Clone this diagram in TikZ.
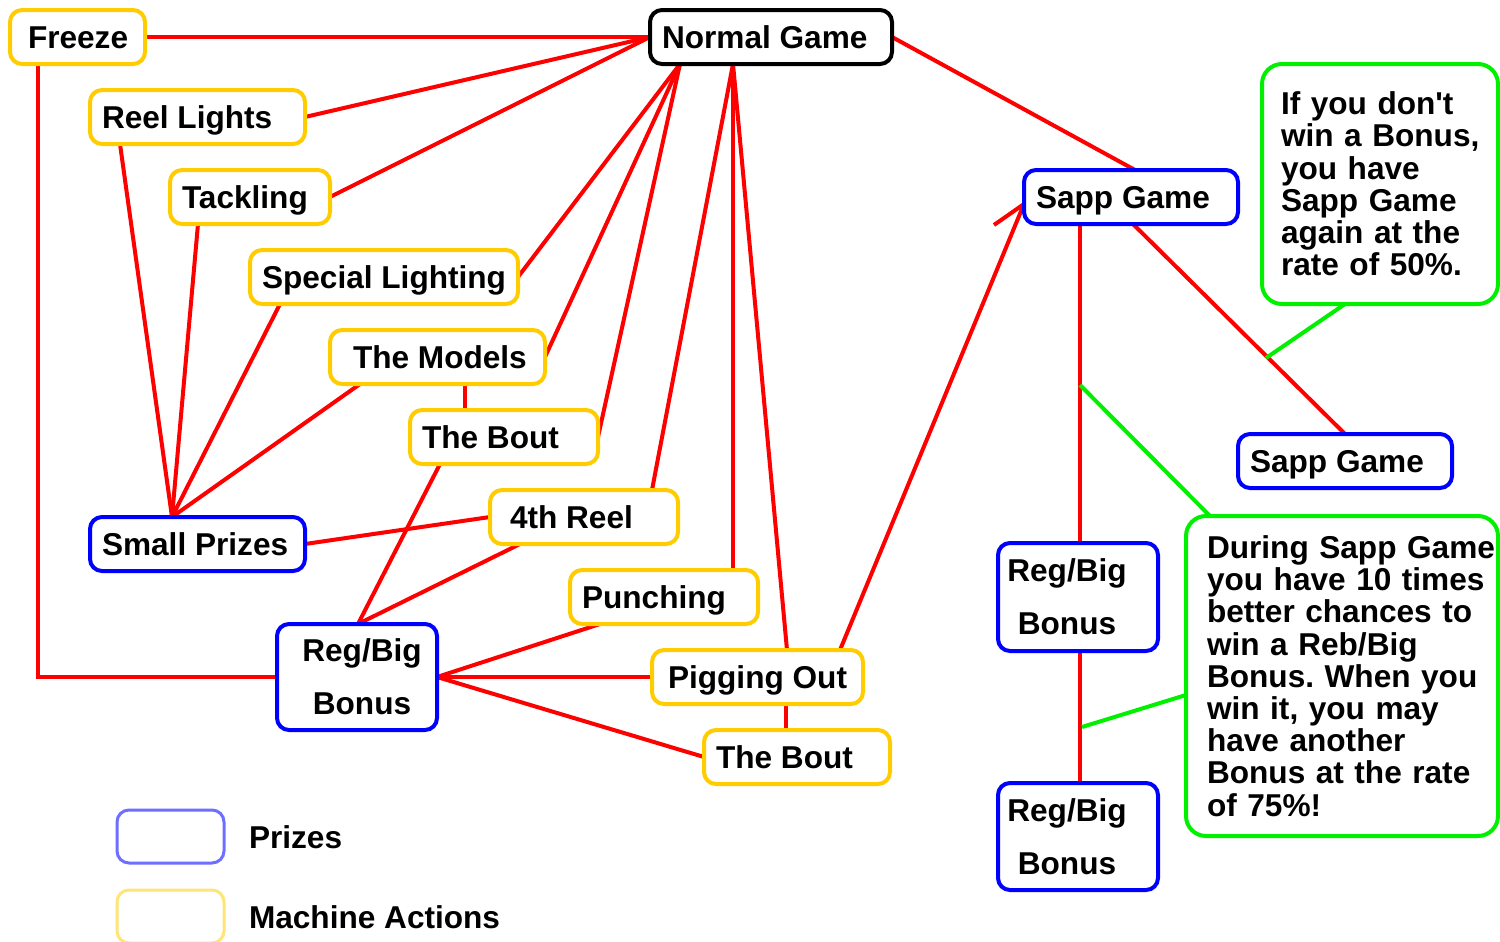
\documentclass[tikz,border=0pt]{standalone}
\usepackage{fontspec}
\setmainfont{Liberation Sans}
\newfontfamily\plainq{Liberation Sans}[Ligatures=TeXOff]
\usetikzlibrary{backgrounds}
\definecolor{myred}{RGB}{255,0,0}
\definecolor{myblue}{RGB}{0,0,255}
\definecolor{myyellow}{RGB}{255,204,0}
\definecolor{mygreen}{RGB}{0,240,0}
\definecolor{lblue}{RGB}{110,110,255}
\definecolor{lyellow}{RGB}{255,228,120}
\frenchspacing
\begin{document}
\begin{tikzpicture}[x=0.5pt,y=-0.5pt,
  lab/.style={font=\fontsize{15.8}{16}\selectfont\bfseries, outer sep=0pt},
  bx/.style={lab, draw, fill=white, line width=2pt, rounded corners=6pt, inner xsep=6pt, inner ysep=0pt, minimum height=27pt, anchor=north west, text height=11pt, text depth=0pt},
  yb/.style={bx, draw=myyellow},
  bb/.style={bx, draw=myblue},
  kb/.style={bx, draw=black},
  two/.style={draw=myblue, fill=white, line width=2pt, rounded corners=6pt, inner sep=0pt, outer sep=0pt, minimum width=80pt, anchor=north west, align=center, font=\fontsize{15.8}{26.5}\selectfont\bfseries},
  note/.style={draw=mygreen, fill=white, line width=2pt, rounded corners=10pt, inner ysep=0pt, outer sep=0pt, anchor=north west, align=left, font=\fontsize{15.8}{16.1}\selectfont\bfseries},
  lg/.style={line width=1.5pt, rounded corners=6pt, minimum width=53.5pt, minimum height=26.5pt, anchor=north west, inner sep=0pt, outer sep=0pt},
  lt/.style={lab, anchor=west, inner sep=0pt, text height=11pt, text depth=0pt},
  wire/.style={draw=myred, line width=2pt},
  gwire/.style={draw=mygreen, line width=2pt}]
\useasboundingbox (0,0) rectangle (1500,942);

% machine action and game nodes
\node[kb] (ng) at (650,10) {\makebox[109pt][l]{Normal Game}};
\node[yb] (fz) at (10,10) {\makebox[55.5pt][l]{\hspace*{3pt}Freeze}};
\node[yb] (rl) at (90,90) {\makebox[95.5pt][l]{Reel Lights}};
\node[yb] (tk) at (170,170) {\makebox[68pt][l]{Tackling}};
\node[yb] (sl) at (250,250) {\makebox[122pt][l]{Special Lighting}};
\node[yb] (tm) at (330,330) {\makebox[95.5pt][l]{\hspace*{5.5pt}The Models}};
\node[yb] (tb1) at (410,410) {\makebox[82pt][l]{The Bout}};
\node[yb] (fr) at (490,490) {\makebox[82pt][l]{\hspace*{4pt}4th Reel}};
\node[bb] (sp) at (90,517) {\makebox[95.5pt][l]{Small Prizes}};
\node[yb] (pu) at (570,570) {\makebox[82pt][l]{Punching}};
\node[yb] (po) at (652,650) {\makebox[93.5pt][l]{\hspace*{2pt}Pigging Out}};
\node[yb] (tb2) at (704,730) {\makebox[81pt][l]{The Bout}};
\node[bb] (sg1) at (1024,170) {\makebox[95pt][l]{Sapp Game}};
\node[bb] (sg2) at (1238,434) {\makebox[95pt][l]{Sapp Game}};
\node[two, minimum height=53pt] (rbl) at (277,624) {\hspace*{5pt}Reg/Big\\\hspace*{5pt}Bonus};
\node[two, minimum height=54pt] (rb1) at (998,543) {Reg/Big\hspace*{11pt}\null\\Bonus\hspace*{11pt}\null};
\node[two, minimum height=53.5pt] (rb2) at (998,783) {Reg/Big\hspace*{11pt}\null\\Bonus\hspace*{11pt}\null};

% notes
\node[note, text width=99pt, inner xsep=9.5pt, minimum height=120pt] (n1) at (1262,64)
  {\mbox{If you don{\plainq'}t}\\\mbox{win a Bonus,}\\\mbox{you have}\\\mbox{Sapp Game}\\\mbox{again at the}\\\mbox{rate of 50\%.}};
\node[note, text width=135pt, inner xsep=10.5pt, minimum height=160pt] (n2) at (1186,516)
  {\mbox{During Sapp Game}\\\mbox{you have 10 times}\\\mbox{better chances to}\\\mbox{win a Reb/Big}\\\mbox{Bonus. When you}\\\mbox{win it, you may}\\\mbox{have another}\\\mbox{Bonus at the rate}\\\mbox{of 75\%!}};

% legend
\node[lg, draw=lblue] (lg1) at (117,810) {};
\node[lg, draw=lyellow] (lg2) at (117,890) {};
\node[lt] (lt1) at (249,837) {Prizes};
\node[lt] (lt2) at (249,917) {Machine Actions};

\coordinate (sgin) at ([yshift=-3.5pt]sg1.west);
\coordinate (g1) at (1266,358);
\coordinate (g2) at (1080,385);
\coordinate (g3) at (1082,727);

\begin{scope}[on background layer]
\fill[white] (0,0) rectangle (1500,942);
\draw[wire] (fz.east) -- (ng.west);
\draw[wire] (rl.east) -- (ng.west);
\draw[wire] (tk.east) -- (ng.west);
\draw[wire] (sl.east) -- ([xshift=15pt]ng.south west);
\draw[wire] (tm.east) -- ([xshift=15pt]ng.south west);
\draw[wire] (tb1.east) -- ([xshift=15pt]ng.south west);
\draw[wire] ([xshift=81pt]fr.north west) -- ([xshift=41.5pt]ng.south west);
\draw[wire] ([xshift=81.5pt]pu.north west) -- ([xshift=41.5pt]ng.south west);
\draw[wire] ([xshift=67.5pt]po.north west) -- ([xshift=41.5pt]ng.south west);
\draw[wire] (ng.east) -- ([xshift=55.5pt]sg1.north west);
\draw[wire] ([xshift=14pt]fz.south west) |- (rbl.west);
\draw[wire] ([xshift=15pt]rl.south west) -- ([xshift=41pt]sp.north west);
\draw[wire] ([xshift=14pt]tk.south west) -- ([xshift=41pt]sp.north west);
\draw[wire] ([xshift=15pt]sl.south west) -- ([xshift=41pt]sp.north west);
\draw[wire] ([xshift=15pt]tm.south west) -- ([xshift=41pt]sp.north west);
\draw[wire] ([xshift=67.5pt]tm.south west) -- ([xshift=27.5pt]tb1.north west);
\draw[wire] (sp.east) -- (fr.west);
\draw[wire] ([xshift=15pt]tb1.south west) -- ([xshift=40.5pt]rbl.north west);
\draw[wire] ([xshift=15pt]fr.south west) -- ([xshift=40.5pt]rbl.north west);
\draw[wire] (rbl.east) -- ([xshift=15pt]pu.south west);
\draw[wire] (rbl.east) -- (po.west);
\draw[wire] (rbl.east) -- (tb2.west);
\draw[wire] ([xshift=67pt]po.south west) -- ([xshift=41pt]tb2.north west);
\draw[wire] ([xshift=94pt]po.north west) -- (sgin);
\draw[wire] (sgin) -- ++(-15pt,-10.5pt);
\draw[wire] ([xshift=28pt]sg1.south west) -- ([xshift=41pt]rb1.north west);
\draw[wire] ([xshift=54.5pt]sg1.south west) -- ([xshift=53.5pt]sg2.north west);
\draw[wire] ([xshift=41pt]rb1.south west) -- ([xshift=41pt]rb2.north west);
\draw[gwire] ([xshift=41.5pt]n1.south west) -- (g1);
\draw[gwire] ([xshift=12pt]n2.north west) -- (g2);
\draw[gwire] ([yshift=-9.5pt]n2.west) -- (g3);
\end{scope}
\end{tikzpicture}
\end{document}
